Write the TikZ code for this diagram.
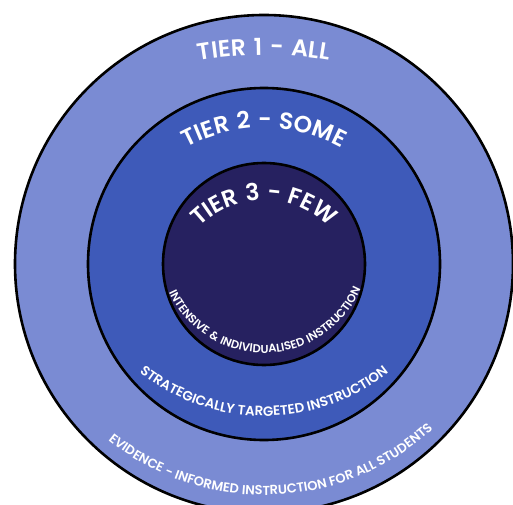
\documentclass[tikz,border=0pt]{standalone}
\usepackage{fontspec}
\setmainfont{Poppins}[BoldFont={* SemiBold}]
\usetikzlibrary{decorations.text}
\definecolor{tierone}{HTML}{7A8BD3}
\definecolor{tiertwo}{HTML}{3E5AB9}
\definecolor{tierthree}{HTML}{262160}
% size and tracking of curved labels
\newcommand{\tierfont}[2]{\bfseries\fontsize{#1}{#1}\selectfont\addfontfeatures{LetterSpace=#2}}

\begin{document}
\begin{tikzpicture}[x=1pt,y=1pt,line width=2.6pt,
	ring/.style={circle,draw=black,inner sep=0pt},
	curved/.style={decorate,decoration={text along path,text align=center,text color=white,text={#1}}}]
	\useasboundingbox (0,0) rectangle (513,504);
	\clip (0,0) rectangle (513,504);
	\coordinate (c) at (264,240);

	% the three tiers
	\node[ring,fill=tierone,minimum size=498pt,name=1] at (c) {};
	\node[ring,fill=tiertwo,minimum size=352pt,name=2] at (c) {};
	\node[ring,fill=tierthree,minimum size=202pt,name=3] at (c) {};

	\begin{scope}[shift={(c)}]
	% headings over the top, on flatter arcs than the rings
	\path[curved={|\tierfont{23.5}{8}|TIER 1 - ALL},shift={(0,-171)}]
		(180:380) arc[start angle=180,end angle=0,radius=380];
	\path[curved={|\tierfont{23.5}{6}|TIER 2 - SOME},shift={(0,-27)}]
		(180:163) arc[start angle=180,end angle=0,radius=163];
	\path[curved={|\tierfont{23.5}{4}|TIER 3 - FEW},shift={(0,-27)}]
		(180:91) arc[start angle=180,end angle=0,radius=91];

	% descriptions under the bottom
	\path[curved={|\tierfont{11.5}{5}|INTENSIVE {\&} INDIVIDUALISED INSTRUCTION},shift={(0,16)}]
		(181:105) arc[start angle=181,end angle=361,radius=105];
	\path[curved={|\tierfont{13.5}{0}|STRATEGICALLY TARGETED INSTRUCTION},shift={(0,47)}]
		(180:199) arc[start angle=180,end angle=360,radius=199];
	\path[curved={|\tierfont{13}{0}|EVIDENCE - INFORMED INSTRUCTION FOR ALL STUDENTS},shift={(0,18)}]
		(182:249) arc[start angle=182,end angle=362,radius=249];
	\end{scope}
\end{tikzpicture}
\end{document}
